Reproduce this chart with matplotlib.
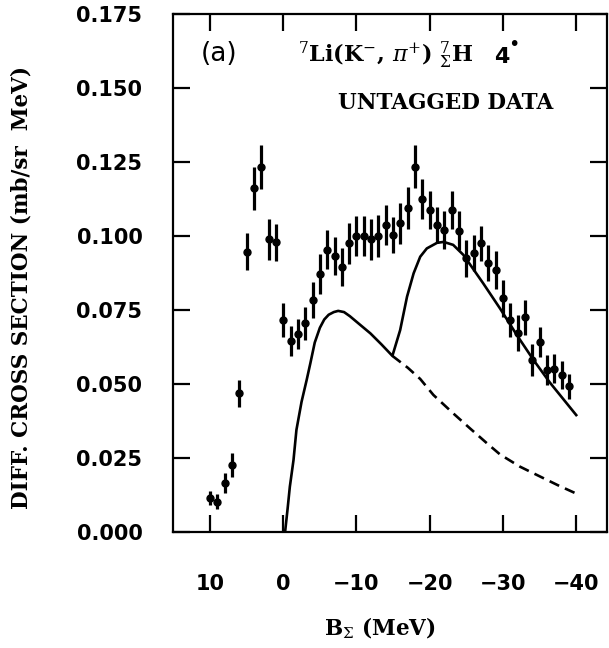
import matplotlib
matplotlib.use('Agg')
import matplotlib.pyplot as plt
from matplotlib.font_manager import FontProperties
from matplotlib.ticker import FixedLocator, FormatStrFormatter

# binding energy bins (MeV) and measured cross section
b_sigma = [10, 9, 8, 7, 6, 5, 4, 3, 2, 1,
           0, -1, -2, -3, -4, -5, -6, -7, -8, -9,
           -10, -11, -12, -13, -14, -15, -16, -17, -18, -19,
           -20, -21, -22, -23, -24, -25, -26, -27, -28, -29,
           -30, -31, -32, -33, -34, -35, -36, -37, -38, -39]
xsec = [0.0115, 0.0102, 0.0166, 0.0226, 0.0469, 0.0947, 0.1161, 0.1234, 0.0989, 0.0979,
        0.0716, 0.0645, 0.0668, 0.0705, 0.0784, 0.0871, 0.0953, 0.0933, 0.0896, 0.0975,
        0.1000, 0.1000, 0.0989, 0.1000, 0.1037, 0.1003, 0.1043, 0.1093, 0.1234, 0.1124,
        0.1088, 0.1037, 0.1020, 0.1088, 0.1018, 0.0925, 0.0942, 0.0975, 0.0908, 0.0885,
        0.0790, 0.0716, 0.0673, 0.0725, 0.0581, 0.0641, 0.0547, 0.0552, 0.0530, 0.0493]
xsec_err = [0.0025, 0.0025, 0.0035, 0.0040, 0.0045, 0.0062, 0.0073, 0.0075, 0.0070, 0.0062,
            0.0056, 0.0052, 0.0050, 0.0056, 0.0060, 0.0068, 0.0066, 0.0065, 0.0064, 0.0068,
            0.0068, 0.0069, 0.0070, 0.0070, 0.0068, 0.0060, 0.0070, 0.0071, 0.0073, 0.0068,
            0.0063, 0.0062, 0.0065, 0.0065, 0.0065, 0.0063, 0.0060, 0.0060, 0.0060, 0.0065,
            0.0062, 0.0056, 0.0060, 0.0060, 0.0055, 0.0050, 0.0052, 0.0048, 0.0048, 0.0042]

# calculated spectrum (solid)
fit_x = [-0.25, -0.6, -0.9, -1.4, -1.8, -2.5, -3.2, -3.7, -4.3, -5.0, -5.6, -6.2, -6.9, -7.5, -8.3,
         -9.1, -10.4, -11.9, -13.4, -14.9,
         -15.96, -16.9, -17.8, -18.7, -19.6, -21.0, -21.9, -23.2, -24.6,
         -27.3, -29.6, -31.9, -34.2, -36.4, -38.2, -40.0]
fit_y = [0.0, 0.0080, 0.0153, 0.0243, 0.0345, 0.0440, 0.0514, 0.0570, 0.0640, 0.0690, 0.0718, 0.0734,
         0.0743, 0.0747, 0.0743,
         0.0729, 0.0702, 0.0671, 0.0634, 0.0595,
         0.0682, 0.0795, 0.0874, 0.0930, 0.0958, 0.0977, 0.0980, 0.0970, 0.0936,
         0.0840, 0.0755, 0.0665, 0.0580, 0.0505, 0.0450, 0.0395]

# quasi-free part continued (dashed)
qf_x = [-14.9, -17.0, -18.7, -20.5, -23.2, -25.5, -27.8, -29.6, -32.3, -35.1, -37.5, -39.9]
qf_y = [0.0595, 0.0555, 0.0517, 0.0463, 0.0401, 0.0350, 0.0300, 0.0262, 0.0221, 0.0187, 0.0158, 0.0131]

xticks = [10, 0, -10, -20, -30, -40]
yticks = [0.0, 0.025, 0.05, 0.075, 0.1, 0.125, 0.15, 0.175]

W, H = 609.0, 648.0
tick_font = FontProperties(family='DejaVu Sans', weight='bold', size=15)
serif_font = dict(family='DejaVu Serif', weight='bold')
plt.rcParams['mathtext.fontset'] = 'dejavuserif'


def put(x, y, s, **kw):
    # place text by pixel position measured from the top-left corner
    fig.text(x / W, 1 - y / H, s, ha='center', va='center', **kw)


fig = plt.figure(figsize=(6.09, 6.48), dpi=100, facecolor='white')
ax = fig.add_axes([0.2841, 0.179, 0.7126, 0.7994])

ax.errorbar(b_sigma, xsec, yerr=xsec_err, fmt='o', color='black',
            markersize=5, elinewidth=2.3, capsize=0, zorder=3)
ax.plot(fit_x, fit_y, color='black', lw=1.9, solid_joinstyle='round')
ax.plot(qf_x, qf_y, color='black', lw=1.9, dashes=(4, 2.4))

ax.set_xlim(15.05, -44.2)
ax.set_ylim(0, 0.175)

ax.xaxis.set_major_locator(FixedLocator(xticks))
ax.yaxis.set_major_locator(FixedLocator(yticks))
ax.yaxis.set_major_formatter(FormatStrFormatter('%.3f'))
ax.tick_params(direction='in', length=12, width=1.6, top=True, right=True)
ax.tick_params(axis='y', pad=22)
ax.tick_params(axis='x', pad=30)
for lab in ax.get_xticklabels() + ax.get_yticklabels():
    lab.set_fontproperties(tick_font)
for sp in ax.spines.values():
    sp.set_linewidth(1.6)

# axis titles
put(22, 287, 'DIFF. CROSS SECTION (mb/sr  MeV)', rotation=90, size=15.5, **serif_font)
put(380, 628, r'B$_{\Sigma}$ (MeV)', size=15.5, **serif_font)

# annotations inside the frame
put(219, 54, '(a)', family='DejaVu Sans', size=19)
put(386, 55, r'$^{7}$Li(K$^{-}$, $\pi^{+}$) $^{7}_{\Sigma}$H', size=16, **serif_font)
put(502, 57, '4', family='DejaVu Sans', weight='bold', size=16)
put(514, 45, '\u2022', family='DejaVu Sans', size=14)
put(446, 103, 'UNTAGGED DATA', size=15.5, **serif_font)

fig.savefig('out.png', dpi=100)
